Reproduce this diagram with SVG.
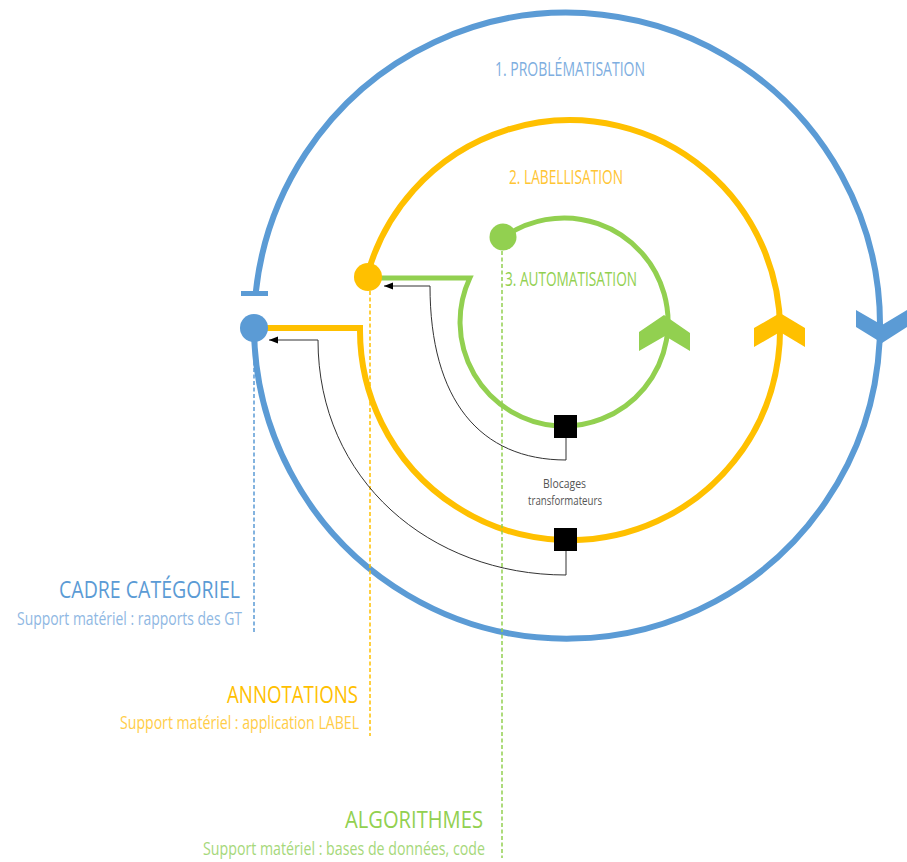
<svg xmlns="http://www.w3.org/2000/svg" width="907" height="862" viewBox="0 0 907 862">
<defs>
<marker id="arr" markerUnits="userSpaceOnUse" markerWidth="10" markerHeight="8" refX="9" refY="3.5" orient="auto">
<path d="M0,0 L9,3.5 L0,7 Z" fill="#000"/>
</marker>
<style>
.t{font-family:"Open Sans","Noto Sans",sans-serif;font-weight:400}
.ring{fill:none;stroke-linejoin:miter}
.dash{fill:none;stroke-width:1.5;stroke-dasharray:4 2.5}
.conn{fill:none;stroke:#333;stroke-width:1}
.blk{fill:#000}
</style>
</defs>
<rect width="907" height="862" fill="#fff"/>

<g id="cycle-problematisation">
<path class="ring" d="M255.7,293 A313,313 0 1 1 254,328" stroke="#5b9bd5" stroke-width="6"/>
<rect x="241" y="291" width="27" height="5" fill="#5b9bd5"/>
<path d="M856,310 L882,325 L907,310 L907,327 L882,343 L856,327 Z" fill="#5b9bd5"/>
<text class="t" x="495" y="76" font-size="20" fill="#7eaee0" textLength="150" lengthAdjust="spacingAndGlyphs">1. PROBLÉMATISATION</text>
</g>

<g id="cycle-labellisation">
<path class="ring" d="M254,328 H360 A210,210 0 1 0 367.1,276" stroke="#ffc000" stroke-width="6"/>
<path d="M754,328 L780,313 L805,328 L805,347 L780,332 L754,347 Z" fill="#ffc000"/>
<text class="t" x="509" y="184" font-size="20" fill="#ffc533" textLength="114" lengthAdjust="spacingAndGlyphs">2. LABELLISATION</text>
</g>

<g id="cycle-automatisation">
<path class="ring" d="M368,278 H469.8 A104,104 0 1 0 502.7,238" stroke="#92d050" stroke-width="5"/>
<path d="M639,332 L664,315 L690,333 L690,351 L665,336 L639,351 Z" fill="#92d050"/>
<text class="t" x="505" y="286" font-size="20" fill="#92d050" textLength="132" lengthAdjust="spacingAndGlyphs">3. AUTOMATISATION</text>
</g>

<g id="connectors">
<line class="dash" x1="254" y1="342" x2="254" y2="634" stroke="#5b9bd5"/>
<line class="dash" x1="370" y1="291" x2="370" y2="736" stroke="#ffc000"/>
<line class="dash" x1="502" y1="251" x2="502" y2="858" stroke="#92d050"/>
<path class="conn" d="M566,438 V460 C480,460 430,400 430,286 H384" marker-end="url(#arr)"/>
<path class="conn" d="M566,551 V575 C430,575 318,480 318,340 H269" marker-end="url(#arr)"/>
</g>

<g id="dot-cadre"><circle cx="254" cy="328" r="14" fill="#5b9bd5"/></g>
<g id="dot-annotations"><circle cx="368" cy="277" r="14" fill="#ffc000"/></g>
<g id="dot-algorithmes"><circle cx="503" cy="237" r="13.5" fill="#92d050"/></g>

<g id="blocage-1"><rect class="blk" x="554" y="415" width="23" height="23"/></g>
<g id="blocage-2"><rect class="blk" x="554" y="528" width="23" height="23"/></g>

<g id="label-blocages">
<text class="t" x="543" y="488" font-size="13" fill="#555" textLength="43" lengthAdjust="spacingAndGlyphs">Blocages</text>
<text class="t" x="528" y="505" font-size="13" fill="#555" textLength="74" lengthAdjust="spacingAndGlyphs">transformateurs</text>
</g>

<g id="label-cadre">
<text class="t" x="59" y="598" font-size="23" fill="#5b9bd5" textLength="181" lengthAdjust="spacingAndGlyphs">CADRE CATÉGORIEL</text>
<text class="t" x="17" y="625" font-size="19" fill="#8fb8e3" textLength="225" lengthAdjust="spacingAndGlyphs">Support matériel : rapports des GT</text>
</g>

<g id="label-annotations">
<text class="t" x="227" y="703" font-size="23" fill="#ffc000" textLength="131" lengthAdjust="spacingAndGlyphs">ANNOTATIONS</text>
<text class="t" x="120" y="729" font-size="19" fill="#ffcd47" textLength="239" lengthAdjust="spacingAndGlyphs">Support matériel : application LABEL</text>
</g>

<g id="label-algorithmes">
<text class="t" x="345" y="828" font-size="23" fill="#92d050" textLength="138" lengthAdjust="spacingAndGlyphs">ALGORITHMES</text>
<text class="t" x="203" y="855" font-size="19" fill="#a6d87a" textLength="282" lengthAdjust="spacingAndGlyphs">Support matériel : bases de données, code</text>
</g>
</svg>
